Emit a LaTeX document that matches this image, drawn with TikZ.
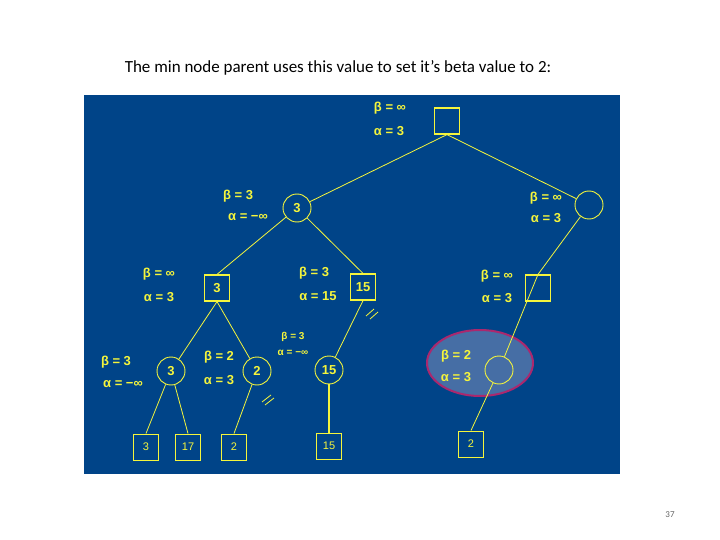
\documentclass[tikz,border=0pt]{standalone}
\usepackage{fontspec}
\setmainfont{Carlito}
\newfontfamily\treefont{Liberation Sans}
\usetikzlibrary{positioning}
\definecolor{boardblue}{RGB}{0,68,136}
\definecolor{hiliteedge}{RGB}{170,40,110}
\definecolor{hilitefill}{RGB}{70,110,165}
\definecolor{nodeyellow}{RGB}{245,245,60}
\tikzset{
  sqnode/.style={draw=nodeyellow, line width=1.2pt, minimum width=25pt, minimum height=26pt, inner sep=0pt, text=nodeyellow, font=\treefont\bfseries\fontsize{13}{13}\selectfont},
  leafnode/.style={sqnode, line width=1pt, font=\treefont\fontsize{11}{11}\selectfont},
  cirnode/.style={draw=nodeyellow, circle, line width=0.9pt, minimum size=28pt, inner sep=0pt, text=nodeyellow, font=\treefont\bfseries\fontsize{13}{13}\selectfont},
  ablabel/.style={text=nodeyellow, font=\treefont\bfseries\fontsize{13}{13}\selectfont, inner sep=0pt},
  smalllabel/.style={ablabel, font=\treefont\bfseries\fontsize{10}{10}\selectfont},
  edge/.style={draw=nodeyellow, line width=0.8pt}
}
\begin{document}
\begin{tikzpicture}[x=1pt, y=-1pt]
    \useasboundingbox (0,0) rectangle (720,540);
    % Title and page number
    \node[font=\fontsize{17}{17}\selectfont] (title) at (338,68) {The min node parent uses this value to set it's beta value to 2:};
    \node[font=\fontsize{9}{9}\selectfont, text=black!60] (pageno) at (670,515) {37};

    % Board
    \fill[boardblue] (84,95) rectangle (620,474);

    % Highlight
    \draw[hiliteedge, line width=2pt, fill=hilitefill] (480,363) ellipse [x radius=53, y radius=33];

    % Tree nodes
    \node[sqnode] (root) at (447,121) {};
    \node[cirnode] (minL) at (297,208) {3};
    \node[cirnode] (minR) at (589,205) {};
    \node[sqnode] (maxLL) at (217,288) {3};
    \node[sqnode] (maxLR) at (363,287) {15};
    \node[sqnode] (maxRR) at (538,288) {};
    \node[cirnode] (minA) at (171,371) {3};
    \node[cirnode] (minB) at (257,371) {2};
    \node[cirnode] (minC) at (329,370) {15};
    \node[cirnode] (minD) at (499,370) {};
    \node[leafnode] (leafA) at (146,447) {3};
    \node[leafnode] (leafB) at (188,447) {17};
    \node[leafnode] (leafC) at (234,447) {2};
    \node[leafnode] (leafD) at (329,446) {15};
    \node[leafnode] (leafE) at (471,444) {2};

    % Edges
    \draw[edge] (root.south) -- (minL);
    \draw[edge] (root.south) -- (minR);
    \draw[edge] (minL) -- (maxLL.north);
    \draw[edge] (minL) -- (maxLR.north);
    \draw[edge] (minR) -- (maxRR.north);
    \draw[edge] (maxLL.south) -- (minA);
    \draw[edge] (maxLL.south) -- (minB);
    \draw[edge] (maxLR.south) -- (minC);
    \draw[edge] (maxRR.north) -- (minD);
    \draw[edge] (minA) -- (leafA.north);
    \draw[edge] (minA) -- (leafB.north);
    \draw[edge] (minB) -- (leafC.north);
    \draw[edge, line width=1.5pt] (minC) -- (leafD.north);
    \draw[edge] (minD) -- (leafE.north);

    % Pruning marks
    \draw[edge] (366,316) -- (374,309) (370,319) -- (378,312);
    \draw[edge] (262,402) -- (271,395) (265,405) -- (274,398);

    % Alpha/beta labels
    \node[ablabel] (bRoot) at (390,108) {β = ∞};
    \node[ablabel] (aRoot) at (389,131) {α = 3};
    \node[ablabel] (bL) at (238,196) {β = 3};
    \node[ablabel] (aL) at (248,217) {α = −∞};
    \node[ablabel] (bR) at (546,198) {β = ∞};
    \node[ablabel] (aR) at (546,218) {α = 3};
    \node[ablabel] (bLL) at (159,274) {β = ∞};
    \node[ablabel] (aLL) at (159,297) {α = 3};
    \node[ablabel] (bLR) at (314,273) {β = 3};
    \node[ablabel] (aLR) at (318,296) {α = 15};
    \node[ablabel] (bRR) at (497,276) {β = ∞};
    \node[ablabel] (aRR) at (497,298) {α = 3};
    \node[ablabel] (bA) at (116,362) {β = 3};
    \node[ablabel] (aA) at (123,384) {α = −∞};
    \node[ablabel] (bB) at (219,357) {β = 2};
    \node[ablabel] (aB) at (219,380) {α = 3};
    \node[smalllabel] (bC) at (293,337) {β = 3};
    \node[smalllabel] (aC) at (293,353) {α = −∞};
    \node[ablabel] (bD) at (456,356) {β = 2};
    \node[ablabel] (aD) at (456,377) {α = 3};
\end{tikzpicture}
\end{document}
